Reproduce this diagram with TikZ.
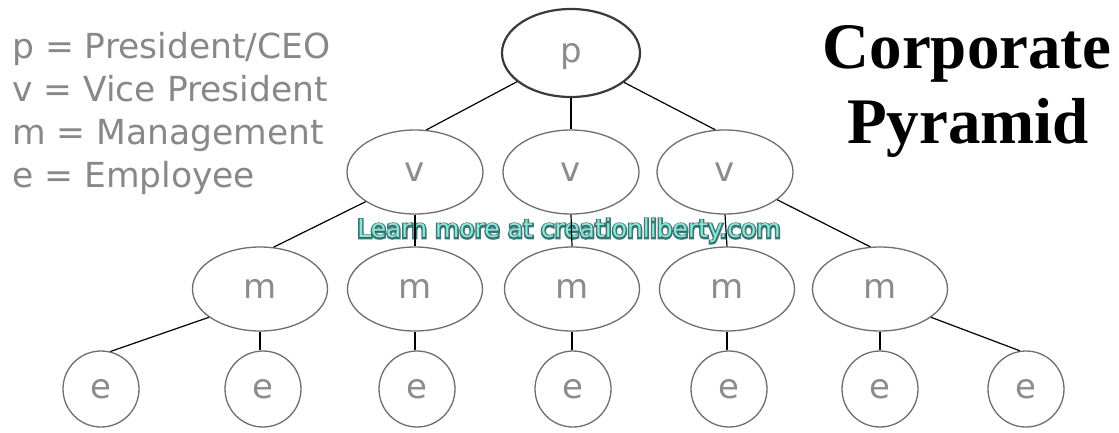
\documentclass[tikz,border=0pt]{standalone}
\usepackage{fontspec}
\setmainfont{Liberation Serif}
\newfontfamily\dejavu{DejaVu Sans}
\newfontfamily\dejavuhalo[FakeBold=12]{DejaVu Sans}
\usetikzlibrary{shapes.geometric}
\definecolor{nodegray}{HTML}{6E6E6E}
\definecolor{lettergray}{HTML}{8C8C8C}
\definecolor{legendgray}{HTML}{888888}
\definecolor{pgray}{HTML}{3A3A3A}
\definecolor{wmdark}{HTML}{2A6A68}
\definecolor{wmlight}{HTML}{8EE6D6}
\tikzset{
  base/.style={draw=nodegray, line width=1.3pt, fill=white, inner sep=0pt,
    text=lettergray, font=\dejavu\fontsize{34}{34}\selectfont,
    text height=18.6pt, text depth=0pt},
  pbox/.style={base, ellipse, draw=pgray, line width=2.2pt, minimum width=138pt, minimum height=88pt},
  vbox/.style={base, ellipse, minimum width=136pt, minimum height=84pt},
  mbox/.style={base, ellipse, minimum width=135pt, minimum height=84pt},
  ebox/.style={base, circle, minimum size=76pt},
  edge/.style={draw=black, line width=1.2pt},
  legend/.style={anchor=base west, inner sep=0pt, text=legendgray, font=\dejavu\fontsize{34.5}{34.5}\selectfont},
  titletext/.style={anchor=base, inner sep=0pt, font=\bfseries\fontsize{65}{65}\selectfont},
  wm/.style={inner sep=0pt, font=\dejavu\fontsize{25}{25}\selectfont},
  wmhalo/.style={inner sep=0pt, font=\dejavuhalo\fontsize{25}{25}\selectfont}
}
\begin{document}
\begin{tikzpicture}[x=1pt,y=-1pt]
\useasboundingbox[fill=white] (0,0) rectangle (1119,432);
% legend
\node[legend] (l1) at (12,58) {p = President/CEO};
\node[legend] (l2) at (12,101) {v = Vice President};
\node[legend] (l3) at (12,144) {m = Management};
\node[legend] (l4) at (12,187) {e = Employee};
% title
\node[titletext] (t1) at (967,68) {Corporate};
\node[titletext] (t2) at (968,143) {Pyramid};
% nodes
\node[pbox] (p) at (571,53) {p};
\node[vbox] (v1) at (415,172) {v};
\node[vbox] (v2) at (571,172) {v};
\node[vbox] (v3) at (725,172) {v};
\node[mbox] (m1) at (260,289) {m};
\node[mbox] (m2) at (415,289) {m};
\node[mbox] (m3) at (572,289) {m};
\node[mbox] (m4) at (727,289) {m};
\node[mbox] (m5) at (880,289) {m};
\node[ebox] (e1) at (101,389) {e};
\node[ebox] (e2) at (263,389) {e};
\node[ebox] (e3) at (417,389) {e};
\node[ebox] (e4) at (573,389) {e};
\node[ebox] (e5) at (729,389) {e};
\node[ebox] (e6) at (880,389) {e};
\node[ebox] (e7) at (1026,389) {e};
% watermark: halo then text
\node[wmhalo, text=wmdark, opacity=0.9] (wmh) at (569,231) {Learn more at creationliberty.com};
\node[wm, text=wmlight] (wm) at (569,231) {Learn more at creationliberty.com};
% edges
\draw[edge] (p.208) -- (v1.75);
\draw[edge] (p.south) -- (v2.north);
\draw[edge] (p.331) -- (v3.103);
\draw[edge] (v1.211) -- (m1.72);
\draw[edge] (v1.south) -- (m2.north);
\draw[edge] (v2.south) -- (m3.north);
\draw[edge] (v3.south) -- (m4.north);
\draw[edge] (v3.332) -- (m5.103);
\draw[edge] (m1.209) -- (e1.76);
\draw[edge] (m1.south) -- (m1.south |- e2.north);
\draw[edge] (m2.south) -- (m2.south |- e3.north);
\draw[edge] (m3.south) -- (m3.south |- e4.north);
\draw[edge] (m4.south) -- (m4.south |- e5.north);
\draw[edge] (m5.south) -- (e6.north);
\draw[edge] (m5.331) -- (e7.99);
\end{tikzpicture}
\end{document}
